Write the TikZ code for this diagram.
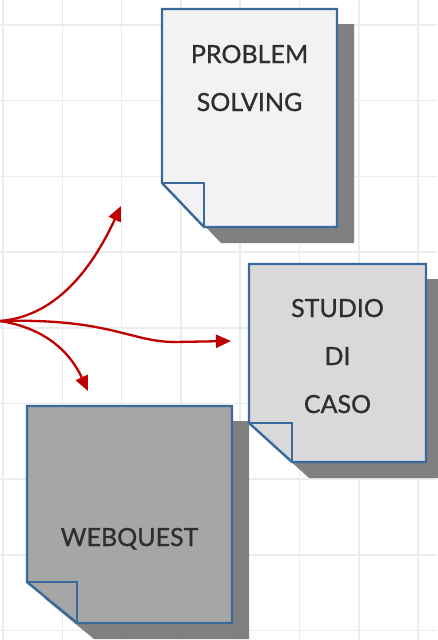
\documentclass[tikz,border=0pt]{standalone}
\usepackage{fontspec}
\setmainfont{Lato}[FakeBold=0.9]
\usetikzlibrary{arrows.meta}
\definecolor{gridc}{HTML}{EAECF0}
\definecolor{bordc}{HTML}{3A6A9C}
\definecolor{shadc}{HTML}{808080}
\definecolor{arrc}{HTML}{C00000}
\definecolor{txtc}{HTML}{2E2E2E}
\definecolor{fillA}{HTML}{F2F2F2}
\definecolor{fillB}{HTML}{D9D9D9}
\definecolor{fillC}{HTML}{A6A6A6}
\tikzset{
  notebox/.style={draw=bordc, line width=2.4pt, line join=miter},
  notefold/.style={draw=bordc, line width=2.4pt},
  noteshadow/.style={fill=shadc, draw=none},
  notetext/.style={text=txtc, font=\fontsize{25}{48}\selectfont, align=center, inner sep=0pt},
  redarrow/.style={draw=arrc, line width=2.3pt, -{Triangle[length=15pt,width=13pt]}},
}
% #1 L, #2 T, #3 R, #4 B, #5 a, #6 b, #7 fill
\newcommand{\mynote}[7]{%
  \fill[noteshadow] ({#1+17},{#2+15}) -- ({#3+17},{#2+15}) -- ({#3+17},{#4+16}) -- ({#1+#5+17},{#4+16}) -- ({#1+17},{#4-#6+16}) -- cycle;
  \fill[white] (#1,{#4-#6}) -- ({#1+#5},#4) -- ({#1+#5+30},#4) -- ({#1+30},{#4-#6}) -- cycle;
  \filldraw[notebox, fill=#7] (#1,#2) -- (#3,#2) -- (#3,#4) -- ({#1+#5},#4) -- (#1,{#4-#6}) -- cycle;
  \draw[notefold] (#1,{#4-#6}) -- ({#1+#5},{#4-#6}) -- ({#1+#5},#4);
}
\begin{document}
\begin{tikzpicture}[x=1pt,y=-1pt]
\useasboundingbox (0,0) rectangle (437,640);
\fill[white] (0,0) rectangle (437,640);
% grid
\foreach \i in {0,...,7} {\draw[gridc, line width=1.5pt] ({3+59.3*\i},0) -- ({3+59.3*\i},640);}
\foreach \j in {0,...,8} {\draw[gridc, line width=1.5pt] (0,{25+75.7*\j}) -- (437,{25+75.7*\j});}
% notes
\mynote{162}{9}{337}{227}{42}{44}{fillA}
\mynote{27}{406}{232}{623}{50}{41}{fillC}
\mynote{249}{264}{426}{462}{43}{39}{fillB}
% texts
\node[notetext, anchor=base] (ps1) at (249.5,63) {PROBLEM};
\node[notetext, anchor=base] (ps2) at (249.5,111) {SOLVING};
\node[notetext, anchor=base] (sc1) at (337.5,317) {STUDIO};
\node[notetext, anchor=base] (sc2) at (337.5,365) {DI};
\node[notetext, anchor=base] (sc3) at (337.5,413) {CASO};
\node[notetext, anchor=base] (wq) at (129.5,546) {WEBQUEST};
% arrows
\coordinate (src) at (0,321);
\coordinate (tipA) at (121,206);
\coordinate (midB) at (175,342);
\coordinate (tipB) at (231,341);
\coordinate (tipC) at (88,391);
\draw[redarrow] (src) .. controls (60,316) and (95,262) .. (tipA);
\draw[redarrow] (src) .. controls (110,318) and (130,342) .. (midB) -- (tipB);
\draw[redarrow] (src) .. controls (45,328) and (70,352) .. (tipC);
\end{tikzpicture}
\end{document}
